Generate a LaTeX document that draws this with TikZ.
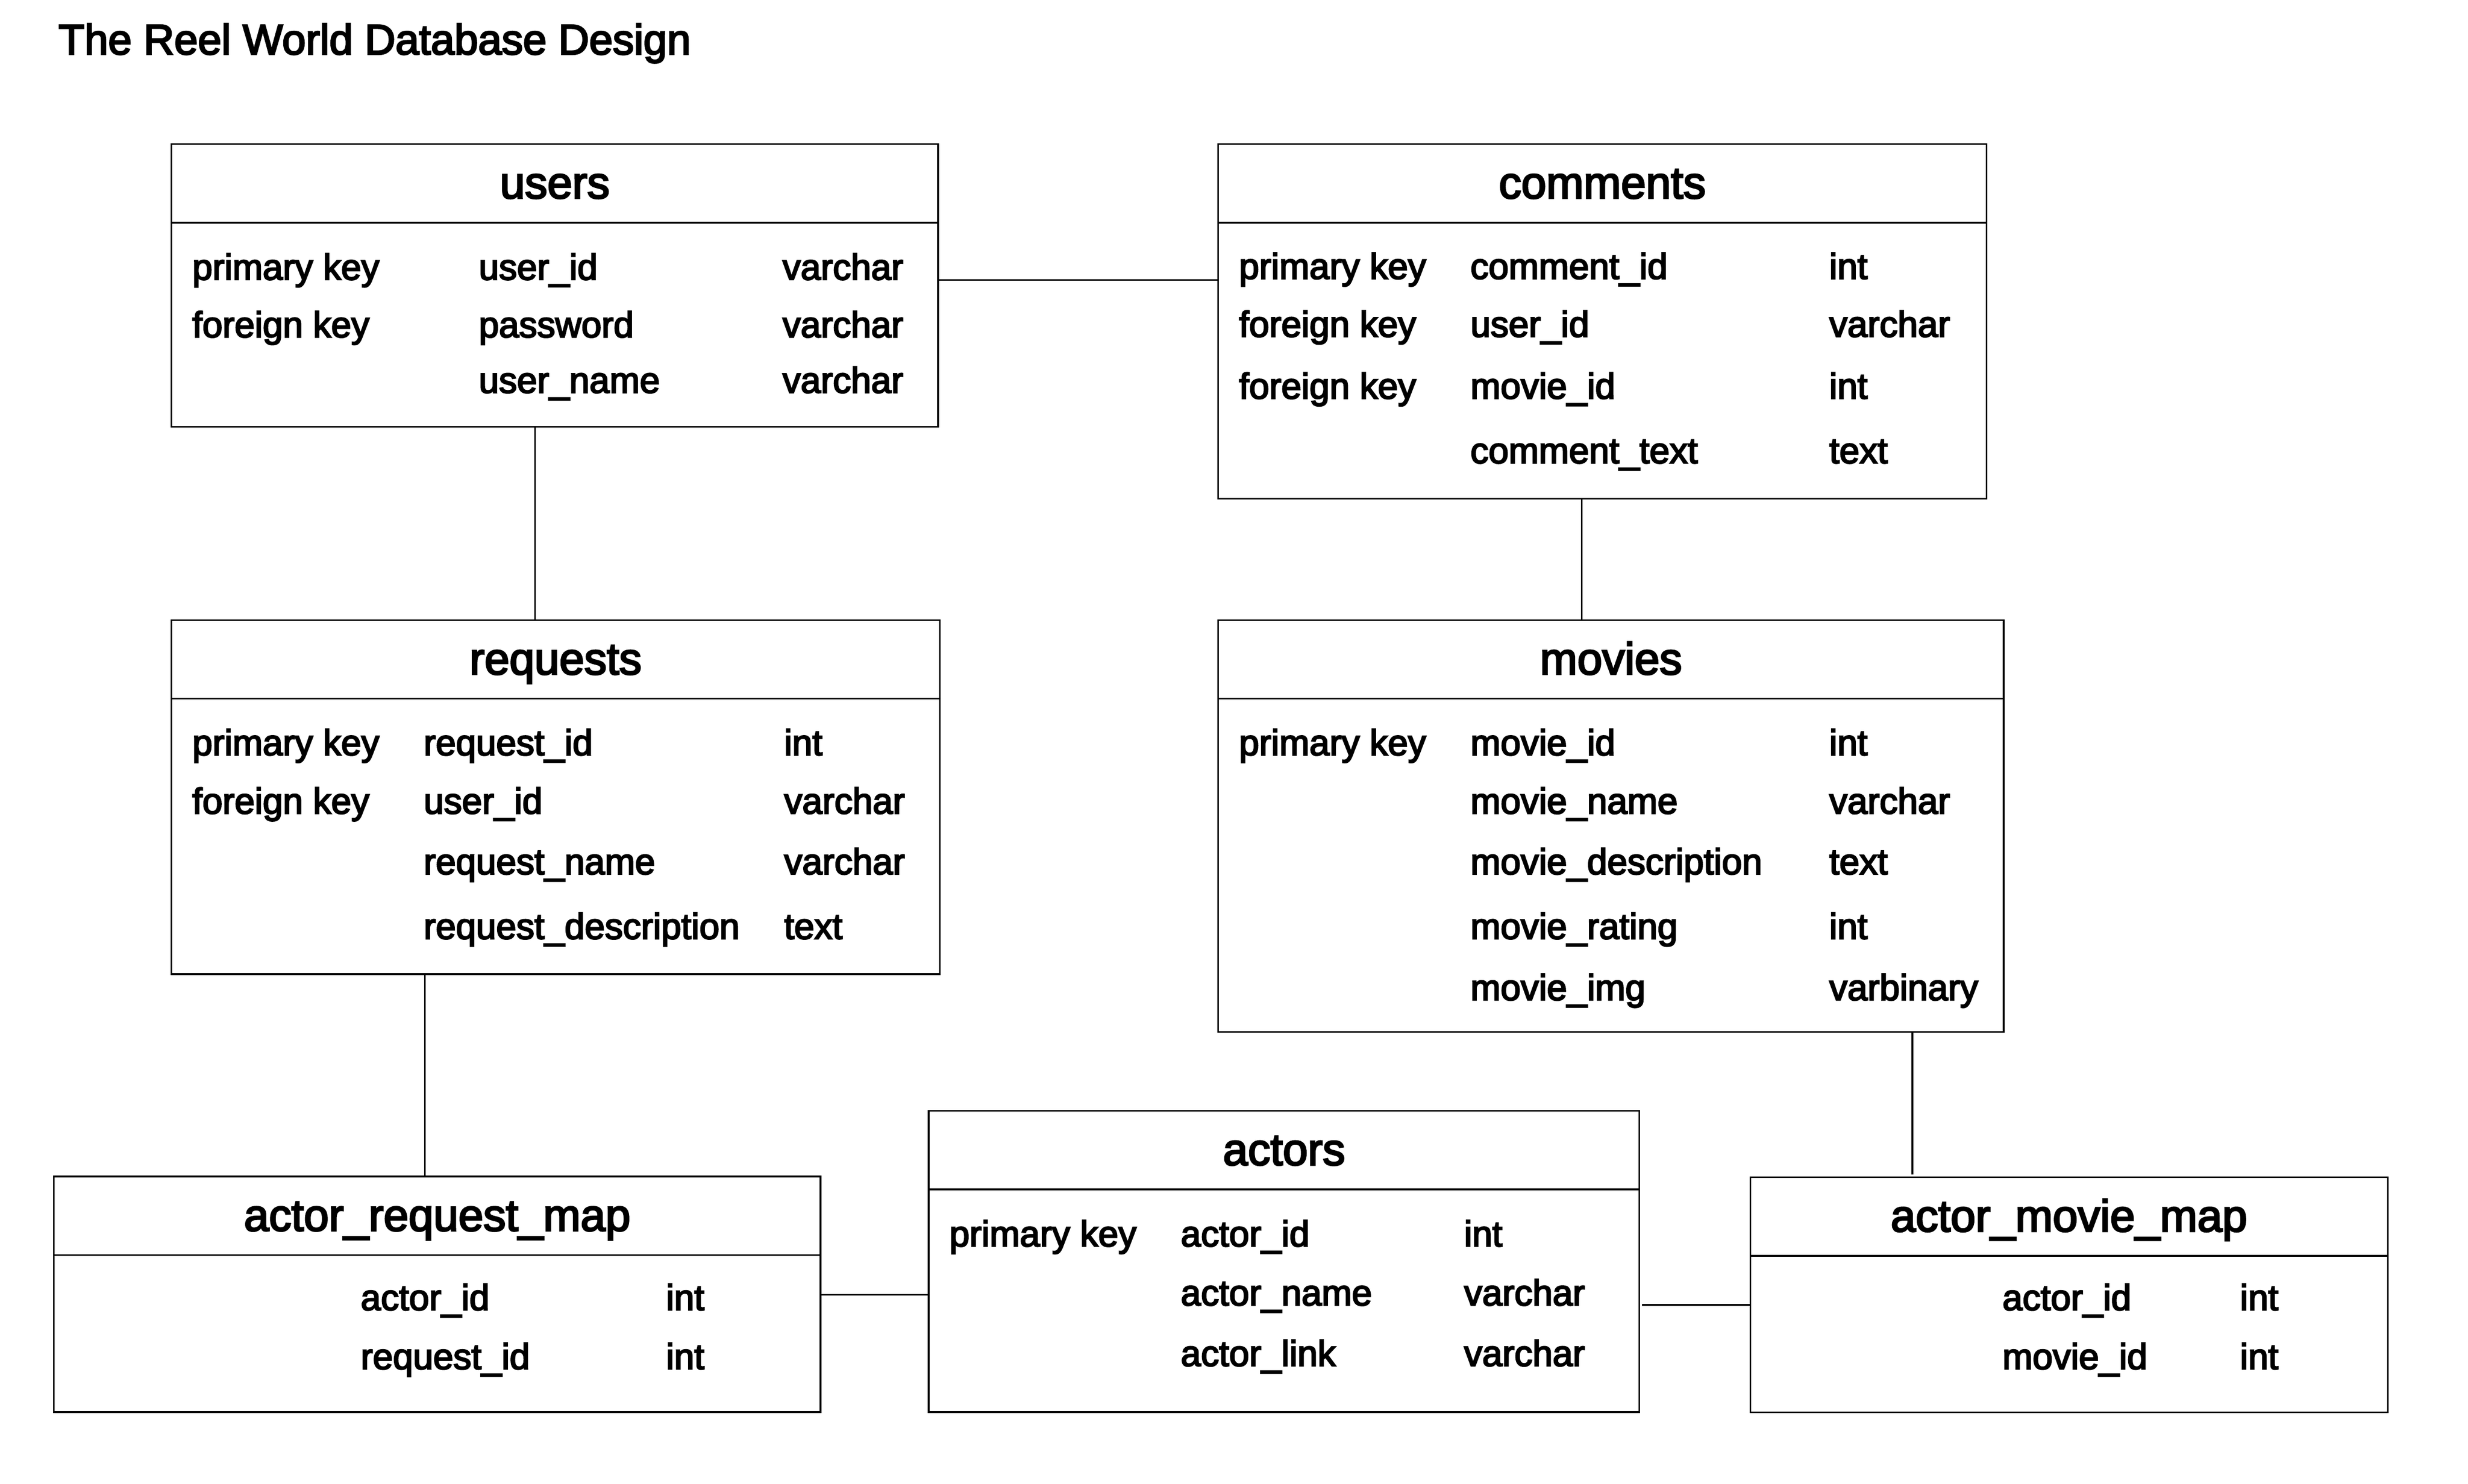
\documentclass[tikz,border=0pt]{standalone}
\usepackage{fontspec}
\usetikzlibrary{calc}
\newfontfamily\dbfont{Liberation Sans}[FakeBold=3.6]
\tikzset{
  x=1pt, y=-1pt,
  line/.style={line width=1pt, black},
  tbox/.style={draw, line width=1pt, anchor=north west, inner sep=0pt, outer sep=0pt},
  hdr/.style={anchor=base, inner sep=0pt, font=\dbfont\fontsize{28.5}{34}\selectfont},
  cell/.style={anchor=base west, inner sep=0pt, font=\dbfont\fontsize{23}{28}\selectfont},
  ttl/.style={anchor=base west, inner sep=0pt, font=\dbfont\fontsize{27}{32}\selectfont}
}
\newcommand{\mktable}[6]{%
  \node[tbox, minimum width=#4pt, minimum height=#5pt] (#1) at (#2,#3) {};
  \draw[line] ($(#1.north west)+(0,50)$) -- ($(#1.north east)+(0,50)$);
  \node[hdr] (#1-title) at ($(#1.north)+(0,34.5)$) {#6};
}
\begin{document}
\begin{tikzpicture}
\useasboundingbox (0,0) rectangle (1568,943);
\node[ttl] (title) at (37,34.5) {The Reel World Database Design};

% tables
\mktable{users}{109}{91.5}{487}{179.8}{users}
\mktable{comments}{774}{91.5}{488}{225.3}{comments}
\mktable{requests}{109}{394}{488}{225}{requests}
\mktable{movies}{774}{394}{499}{261.8}{movies}
\mktable{arm}{34.3}{747.6}{487}{149.7}{actor\_request\_map}
\mktable{actors}{590}{705.8}{451.6}{191.5}{actors}
\mktable{amm}{1112}{748}{405}{149.5}{actor\_movie\_map}

% users rows
\node[cell] (u11) at (122,177.7) {primary key};
\node[cell] (u12) at (304,177.7) {user\_id};
\node[cell] (u13) at (497,177.7) {varchar};
\node[cell] (u21) at (122,214.3) {foreign key};
\node[cell] (u22) at (304,214.3) {password};
\node[cell] (u23) at (497,214.3) {varchar};
\node[cell] (u32) at (304,249.6) {user\_name};
\node[cell] (u33) at (497,249.6) {varchar};

% comments rows
\node[cell] (c11) at (787,177.2) {primary key};
\node[cell] (c12) at (934,177.2) {comment\_id};
\node[cell] (c13) at (1162,177.2) {int};
\node[cell] (c21) at (787,214) {foreign key};
\node[cell] (c22) at (934,214) {user\_id};
\node[cell] (c23) at (1162,214) {varchar};
\node[cell] (c31) at (787,253.3) {foreign key};
\node[cell] (c32) at (934,253.3) {movie\_id};
\node[cell] (c33) at (1162,253.3) {int};
\node[cell] (c42) at (934,294.3) {comment\_text};
\node[cell] (c43) at (1162,294.3) {text};

% requests rows
\node[cell] (r11) at (122,479.9) {primary key};
\node[cell] (r12) at (269,479.9) {request\_id};
\node[cell] (r13) at (498,479.9) {int};
\node[cell] (r21) at (122,517) {foreign key};
\node[cell] (r22) at (269,517) {user\_id};
\node[cell] (r23) at (498,517) {varchar};
\node[cell] (r32) at (269,555.5) {request\_name};
\node[cell] (r33) at (498,555.5) {varchar};
\node[cell] (r42) at (269,596.6) {request\_description};
\node[cell] (r43) at (498,596.6) {text};

% movies rows
\node[cell] (m11) at (787,479.9) {primary key};
\node[cell] (m12) at (934,479.9) {movie\_id};
\node[cell] (m13) at (1162,479.9) {int};
\node[cell] (m22) at (934,517) {movie\_name};
\node[cell] (m23) at (1162,517) {varchar};
\node[cell] (m32) at (934,555.5) {movie\_description};
\node[cell] (m33) at (1162,555.5) {text};
\node[cell] (m42) at (934,596.6) {movie\_rating};
\node[cell] (m43) at (1162,596.6) {int};
\node[cell] (m52) at (934,635.5) {movie\_img};
\node[cell] (m53) at (1162,635.5) {varbinary};

% actors rows
\node[cell] (a11) at (603,792) {primary key};
\node[cell] (a12) at (750,792) {actor\_id};
\node[cell] (a13) at (930,792) {int};
\node[cell] (a22) at (750,829.5) {actor\_name};
\node[cell] (a23) at (930,829.5) {varchar};
\node[cell] (a32) at (750,868) {actor\_link};
\node[cell] (a33) at (930,868) {varchar};

% actor_request_map rows
\node[cell] (q12) at (229,832.5) {actor\_id};
\node[cell] (q13) at (423,832.5) {int};
\node[cell] (q22) at (229,870) {request\_id};
\node[cell] (q23) at (423,870) {int};

% actor_movie_map rows
\node[cell] (p12) at (1272,832.5) {actor\_id};
\node[cell] (p13) at (1423,832.5) {int};
\node[cell] (p22) at (1272,870) {movie\_id};
\node[cell] (p23) at (1423,870) {int};

% connectors
\draw[line] (users.east |- 0,177.8) -- (comments.west |- 0,177.8);
\draw[line] (users.south -| 340,0) -- (requests.north -| 340,0);
\draw[line] (comments.south -| 1005,0) -- (movies.north -| 1005,0);
\draw[line] (requests.south -| 270,0) -- (arm.north -| 270,0);
\draw[line] (arm.east |- 0,822.8) -- (actors.west |- 0,822.8);
\draw[line] ([xshift=1.6pt]actors.east |- 0,829.2) -- (amm.west |- 0,829.2);
\draw[line] (movies.south -| 1215,0) -- ([yshift=1.6pt]amm.north -| 1215,0);
\end{tikzpicture}
\end{document}
